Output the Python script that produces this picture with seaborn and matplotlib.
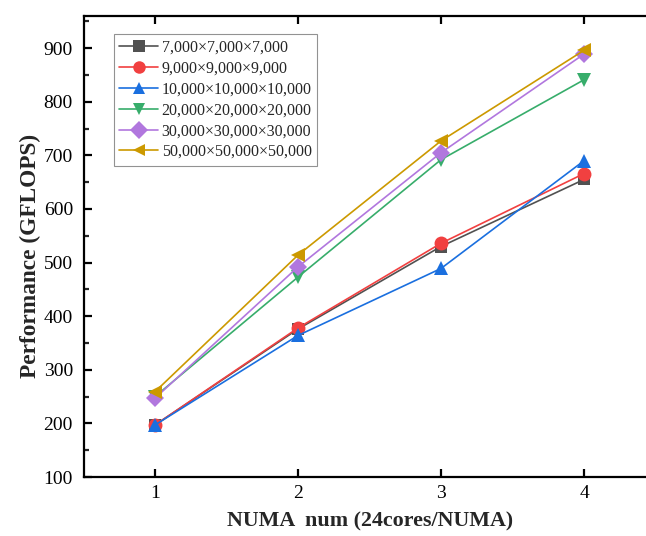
import matplotlib
matplotlib.use("Agg")
import matplotlib.pyplot as plt
from matplotlib.ticker import MultipleLocator
import seaborn as sns
import pandas as pd

# NUMA node counts on the x axis
numa_nodes = [1, 2, 3, 4]

# Matrix sizes (M x N x K) for each series
sizes = [
    "7,000×7,000×7,000",
    "9,000×9,000×9,000",
    "10,000×10,000×10,000",
    "20,000×20,000×20,000",
    "30,000×30,000×30,000",
    "50,000×50,000×50,000",
]

# Measured performance in GFLOPS
perf_7k = [197, 376, 530, 655]
perf_9k = [197, 378, 536, 666]
perf_10k = [197, 364, 489, 690]
perf_20k = [250, 473, 692, 841]
perf_30k = [247, 492, 705, 889]
perf_50k = [259, 514, 727, 896]

series = [perf_7k, perf_9k, perf_10k, perf_20k, perf_30k, perf_50k]

rows = []
for name, vals in zip(sizes, series):
    for n, v in zip(numa_nodes, vals):
        rows.append({"NUMA": n, "GFLOPS": v, "size": name})
df = pd.DataFrame(rows)

colors = ["#515151", "#F14040", "#1A6FDF", "#37AD6B", "#B177DE", "#CC9900"]
markers = ["s", "o", "^", "v", "D", "<"]
marker_sizes = [9, 10, 10.5, 10.5, 9, 10.5]

sns.set_theme(style="ticks")
plt.rcParams["font.family"] = ["Liberation Serif", "DejaVu Serif"]
plt.rcParams["mathtext.fontset"] = "stix"

fig = plt.figure(figsize=(6.46, 5.36), dpi=100)
ax = fig.add_axes([84 / 646, 59 / 536, 562 / 646, 461 / 536])

sns.lineplot(
    data=df, x="NUMA", y="GFLOPS", hue="size", style="size",
    hue_order=sizes, style_order=sizes,
    palette=colors, markers=markers, dashes=False,
    linewidth=1.2, markersize=10, markeredgewidth=0, ax=ax,
)

# per-series marker size tweaks
for line, ms in zip(ax.get_lines(), marker_sizes):
    line.set_markersize(ms)

ax.set_xlim(1 - 71 / 143, 4 + 62 / 143)
ax.set_ylim(100, 960)
ax.set_xticks(numa_nodes)
ax.yaxis.set_major_locator(MultipleLocator(100))
ax.yaxis.set_minor_locator(MultipleLocator(50))

for side in ["left", "bottom", "top"]:
    ax.spines[side].set_linewidth(1.6)
    ax.spines[side].set_color("black")
ax.spines["right"].set_visible(False)

ax.tick_params(axis="both", which="major", direction="in", length=6, width=1.6,
               labelsize=14, colors="black", pad=8)
ax.tick_params(axis="y", which="minor", direction="in", length=3.5, width=1.6)
ax.tick_params(axis="x", top=True, bottom=True)
ax.tick_params(axis="x", pad=6)

ax.set_xlabel("NUMA  num (24cores/NUMA)", fontsize=15.8, fontweight="bold")
ax.set_ylabel("Performance (GFLOPS)", fontsize=16.8, fontweight="bold")
ax.xaxis.set_label_coords(0.509, -0.075)
ax.yaxis.set_label_coords(-0.0765, 0.48)

leg = ax.legend(
    loc="upper left", bbox_to_anchor=(0.053, 0.96), frameon=True, fancybox=False,
    fontsize=11.5, handlelength=2.4, handletextpad=0.25, borderpad=0.35,
    labelspacing=0.3, borderaxespad=0,
)
leg.get_frame().set_edgecolor("#777777")
leg.get_frame().set_linewidth(0.8)
for h in leg.legend_handles:
    h.set_markersize(9)

fig.savefig("out.png", dpi=100)
